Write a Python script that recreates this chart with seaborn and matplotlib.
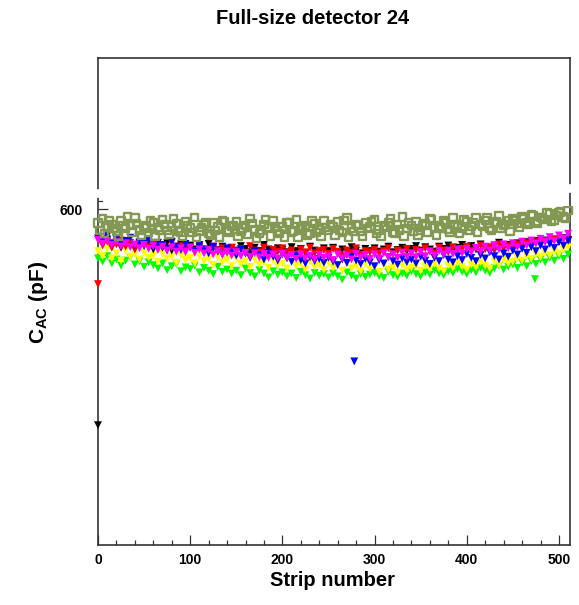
import matplotlib
matplotlib.use("Agg")
import matplotlib.pyplot as plt
import seaborn as sns
import pandas as pd
from matplotlib.ticker import MultipleLocator, FixedLocator

# ---------------- data (C_AC in pF) ----------------
strips = list(range(0, 511, 5))      # every 5th strip, 0..510
strips_b = list(range(2, 508, 5))    # in-between strips, 2..507

olive_vals = [
    575, 583, 568, 572, 561, 579, 566, 571, 584, 563,
    570, 558, 576, 567, 581, 562, 569, 574, 559, 578,
    566, 585, 561, 572, 557, 575, 568, 580, 562, 569,
    577, 560, 571, 583, 564, 556, 573, 567, 579, 561,
    568, 575, 559, 582, 565, 571, 557, 574, 563, 580,
    562, 569, 577, 558, 584, 566, 572, 560, 575, 568,
    581, 563, 570, 576, 559, 573, 586, 565, 571, 578,
    562, 574, 583, 567, 570, 579, 564, 585, 572, 566,
    577, 569, 584, 572, 580, 566, 575, 588, 571, 579,
    583, 574, 587, 576, 590, 578, 585, 581, 592, 580,
    594, 586, 597]

olive_vals_b = [
    562, 556, 580, 565, 552, 570, 587, 559, 574, 553,
    566, 579, 551, 563, 572, 555, 583, 561, 552, 570,
    558, 549, 567, 576, 553, 562, 550, 578, 559, 571,
    551, 566, 555, 574, 548, 563, 581, 552, 568, 557,
    550, 576, 561, 549, 569, 554, 579, 558, 551, 567,
    573, 553, 562, 580, 549, 560, 571, 552, 565, 578,
    556, 551, 568, 583, 557, 563, 552, 575, 560, 554,
    571, 558, 581, 553, 566, 575, 559, 568, 556, 582,
    563, 575, 559, 570, 585, 562, 577, 566, 573, 560,
    579, 568, 583, 572, 588, 575, 584, 593, 578, 589,
    595, 583]

magenta_vals = [
    545, 538, 543, 536, 541, 533, 539, 532, 537, 530,
    536, 529, 534, 527, 533, 526, 532, 524, 530, 523,
    531, 522, 528, 521, 527, 519, 525, 518, 524, 517,
    523, 516, 522, 515, 521, 514, 520, 513, 519, 512,
    520, 513, 518, 511, 519, 512, 517, 510, 518, 513,
    516, 509, 519, 512, 517, 510, 520, 513, 518, 511,
    519, 512, 521, 514, 519, 513, 522, 515, 520, 514,
    523, 516, 524, 517, 525, 519, 526, 520, 528, 521,
    529, 523, 531, 524, 533, 526, 535, 528, 537, 530,
    539, 532, 542, 535, 544, 538, 547, 541, 550, 543,
    553, 547, 556]

blue_vals = [
    548, 541, 552, 539, 546, 537, 543, 549, 535, 541,
    538, 545, 532, 540, 536, 529, 542, 533, 527, 538,
    531, 524, 536, 528, 521, 533, 526, 519, 530, 523,
    517, 528, 521, 513, 525, 518, 510, 522, 515, 508,
    519, 512, 506, 516, 509, 503, 514, 507, 511, 504,
    513, 506, 500, 510, 504, 515, 508, 502, 511, 505,
    498, 509, 503, 514, 507, 501, 512, 505, 510, 503,
    515, 508, 502, 513, 507, 518, 510, 505, 516, 509,
    520, 513, 507, 518, 512, 523, 516, 510, 521, 515,
    526, 519, 529, 522, 532, 525, 535, 528, 538, 531,
    541, 535, 544]

black_vals = [
    214, 538, 546, 534, 540, 531, 543, 536, 529, 539,
    534, 541, 528, 536, 531, 539, 526, 533, 537, 530,
    535, 528, 532, 525, 538, 530, 524, 533, 527, 531,
    526, 534, 529, 523, 531, 525, 536, 528, 522, 530,
    527, 523, 532, 525, 529, 521, 533, 526, 524, 530,
    525, 531, 522, 528, 524, 532, 526, 521, 529, 525,
    530, 524, 528, 533, 523, 527, 531, 525, 529, 534,
    526, 532, 528, 524, 533, 529, 535, 527, 531, 536,
    530, 534, 528, 537, 532, 526, 535, 540, 531, 536,
    533, 539, 535, 541, 537, 543, 538, 544, 540, 546,
    542, 548, 545]

red_vals = [
    466, 535, 542, 531, 537, 544, 533, 540, 528, 536,
    541, 532, 537, 529, 535, 526, 540, 531, 534, 527,
    532, 525, 536, 528, 523, 533, 527, 530, 522, 531,
    525, 529, 521, 534, 526, 523, 531, 520, 527, 524,
    530, 522, 526, 519, 528, 523, 531, 521, 525, 527,
    520, 529, 524, 517, 526, 522, 530, 518, 525, 523,
    527, 521, 525, 530, 519, 526, 523, 529, 522, 527,
    524, 530, 525, 521, 531, 526, 523, 532, 527, 529,
    533, 525, 530, 535, 528, 532, 526, 537, 530, 534,
    531, 537, 533, 539, 535, 541, 537, 543, 539, 545,
    542, 547, 544]

yellow_vals = [
    525, 516, 529, 512, 521, 508, 526, 515, 519, 510,
    522, 513, 517, 506, 520, 511, 515, 504, 518, 509,
    513, 503, 516, 507, 511, 500, 514, 505, 509, 498,
    512, 502, 507, 497, 510, 501, 505, 495, 508, 499,
    503, 494, 507, 498, 502, 492, 506, 497, 500, 491,
    504, 495, 499, 490, 503, 494, 498, 489, 502, 493,
    497, 488, 501, 492, 496, 487, 500, 491, 495, 499,
    490, 498, 493, 502, 494, 489, 500, 495, 504, 497,
    492, 501, 496, 505, 499, 494, 507, 500, 510, 503,
    506, 513, 508, 516, 511, 519, 514, 522, 517, 525,
    520, 528, 532]

green_vals = [
    512, 506, 516, 503, 510, 499, 508, 514, 501, 507,
    497, 505, 500, 494, 503, 491, 498, 502, 489, 496,
    493, 499, 487, 495, 490, 484, 497, 488, 492, 485,
    490, 482, 494, 486, 480, 491, 485, 478, 489, 483,
    487, 480, 485, 477, 488, 482, 476, 486, 481, 484,
    478, 485, 480, 474, 487, 481, 476, 484, 479, 483,
    486, 480, 477, 488, 482, 479, 485, 481, 489, 484,
    480, 487, 483, 491, 485, 482, 489, 486, 493, 488,
    484, 491, 487, 495, 490, 486, 494, 499, 492, 497,
    501, 495, 504, 498, 507, 502, 510, 505, 513, 508,
    516, 511, 519]

white_vals = [
    628, 635, 622, 631, 626, 639, 624, 633, 629, 620,
    636, 627, 632, 623, 638, 629, 625, 634, 621, 630,
    627, 637, 624, 632, 628, 619, 635, 630, 626, 633,
    622, 631, 638, 627, 624, 634, 629, 621, 636, 628,
    632, 625, 630, 639, 623, 628, 635, 626, 631, 620,
    634, 629, 624, 637, 630, 622, 633, 627, 640, 625,
    631, 626, 636, 621, 629, 638, 624, 632, 627, 635,
    623, 630, 637, 628, 625, 634, 620, 631, 639, 626,
    633, 628, 622, 636, 630, 625, 641, 627, 634, 621,
    637, 629, 644, 624, 632, 639, 618, 635, 642, 627,
    646, 615, 638]

# isolated single-strip outliers (strip, value, series)
outlier_strips = [278, 474]
outlier_values = [328, 475]
outlier_series = ["blue", "green"]

series_order = ["green", "yellow", "black", "red", "blue", "magenta"]
series_vals = {"green": green_vals, "yellow": yellow_vals, "blue": blue_vals,
               "black": black_vals, "red": red_vals, "magenta": magenta_vals}
palette = {"green": "#00ff00", "yellow": "#ffff00", "blue": "#0000ff",
           "black": "#000000", "red": "#ff0000", "magenta": "#ff00ff"}
olive = "#839853"

x_ticks = [0, 100, 200, 300, 400, 500]
y_ticks = [600]

# ---------------- build tables ----------------
rows = []
for name in series_order:
    vals = series_vals[name]
    assert len(vals) == len(strips), (name, len(vals))
    for s, v in zip(strips, vals):
        rows.append((name, s, v))
for s, v, name in zip(outlier_strips, outlier_values, outlier_series):
    rows.append((name, s, v))
df = pd.DataFrame(rows, columns=["series", "strip", "cac"])

assert len(olive_vals) == len(strips) and len(white_vals) == len(strips)
assert len(olive_vals_b) == len(strips_b)
df_olive = pd.DataFrame({"strip": strips + strips_b,
                         "cac": olive_vals + olive_vals_b})
df_white = pd.DataFrame({"strip": strips, "cac": white_vals})

# ---------------- plot ----------------
sns.set_theme(style="ticks")
plt.rcParams["font.family"] = ["Liberation Sans", "DejaVu Sans"]
plt.rcParams["text.color"] = "black"
plt.rcParams["xtick.color"] = "black"
plt.rcParams["ytick.color"] = "black"
plt.rcParams["mathtext.fontset"] = "custom"
plt.rcParams["mathtext.rm"] = "Liberation Sans"
plt.rcParams["mathtext.bf"] = "Liberation Sans:bold"

fig = plt.figure(figsize=(5.79, 6.05), dpi=100)
fig.patch.set_facecolor("white")
ax = fig.add_axes([98 / 579, 60 / 605, 472 / 579, 487 / 605])
ax.set_facecolor("white")

sns.scatterplot(data=df, x="strip", y="cac", hue="series", palette=palette,
                hue_order=series_order, marker="v", s=32, linewidth=0,
                legend=False, ax=ax, zorder=3, clip_on=False)
sns.scatterplot(data=df_olive, x="strip", y="cac", marker="s", s=28,
                facecolors="none", edgecolor=olive, linewidth=1.7,
                legend=False, ax=ax, zorder=3, clip_on=False)
sns.scatterplot(data=df_white, x="strip", y="cac", marker="s", s=40,
                color="white", edgecolor="white", linewidth=0.5,
                legend=False, ax=ax, zorder=4, clip_on=False)

ax.set_xlim(0, 512)
ax.set_ylim(0, 870)
ax.xaxis.set_major_locator(FixedLocator(x_ticks))
ax.xaxis.set_minor_locator(MultipleLocator(20))
ax.yaxis.set_major_locator(FixedLocator(y_ticks))
ax.yaxis.set_minor_locator(FixedLocator([615]))
ax.tick_params(axis="both", which="major", direction="in", length=7,
               width=0.9, color="#333333", labelsize=10, labelcolor="black")
ax.tick_params(axis="both", which="minor", direction="in", length=3.5,
               width=0.9, color="#333333")
ax.tick_params(axis="x", which="major", pad=6)
ax.tick_params(axis="y", which="major", pad=11)
for lab in ax.get_xticklabels() + ax.get_yticklabels():
    lab.set_fontweight("bold")
for sp in ax.spines.values():
    sp.set_visible(True)
    sp.set_color("#333333")
    sp.set_linewidth(1.2)
    sp.set_zorder(2.5)

ax.set_xlabel("")
ax.set_ylabel("")

fig.text(313 / 579, 1 - 19 / 605, "Full-size detector 24", ha="center",
         va="center", fontsize=14.5, fontweight="bold", color="black")
fig.text(333 / 579, 1 - 580 / 605, "Strip number", ha="center",
         va="center", fontsize=14.5, fontweight="bold", color="black")
fig.text(38 / 579, 1 - 302 / 605, r"$\mathbf{C_{AC}}$ (pF)", ha="center",
         va="center", rotation=90, fontsize=15, fontweight="bold",
         color="black")

fig.savefig("out.png", dpi=100, facecolor="white")
